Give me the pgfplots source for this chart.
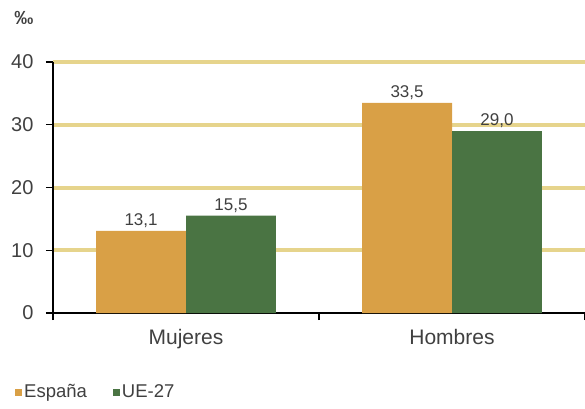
\documentclass[border=0pt]{standalone}
\usepackage{pgfplots}
\pgfplotsset{compat=1.18}
\usepackage{fontspec}
\setmainfont{Liberation Sans}
\definecolor{orangebar}{RGB}{217,160,70}
\definecolor{greenbar}{RGB}{74,116,67}
\definecolor{gridc}{RGB}{230,212,140}
\definecolor{txt}{RGB}{64,64,64}
\pgfplotsset{/pgf/number format/assume math mode=true}
\begin{document}
\begin{tikzpicture}
\useasboundingbox (-53pt,-95pt) rectangle (532pt,313pt);
\begin{axis}[
  at={(0pt,0pt)}, anchor=south west, scale only axis,
  width=532pt, height=251pt,
  xmin=-0.5, xmax=1.5, ymin=0, ymax=40,
  axis x line=bottom, axis y line=left,
  axis line style={-, black, line width=1.1pt},
  ybar, bar width=0.338,
  xtick={0,1}, xticklabels={Mujeres,Hombres},
  minor xtick={-0.5,0.5,1.5},
  ytick={10,20,30,40},
  extra y ticks={0}, extra y tick style={grid=none},
  ymajorgrids, major grid style={gridc, line width=4pt},
  tick align=outside,
  major tick length=7pt, minor tick length=7pt,
  every major x tick/.append style={draw=none},
  every minor x tick/.append style={black, line width=1.1pt},
  every major y tick/.append style={black, line width=1.1pt},
  yticklabel style={font=\fontsize{20}{24}\selectfont, text=txt, xshift=-9pt},
  xticklabel style={font=\fontsize{21}{25}\selectfont, text=txt, yshift=-6pt},
  nodes near coords={\pgfmathprintnumber[use comma,fixed,fixed zerofill,precision=1]{\pgfplotspointmeta}},
  every node near coord/.append style={font=\fontsize{17}{20}\selectfont, text=txt},
  legend image code/.code={\fill[#1] (0pt,-3.5pt) rectangle (7pt,3.5pt);},
  legend style={draw=none, fill=none, legend columns=2,
    at={(axis description cs:-0.0714,-0.315)}, anchor=west,
    font=\fontsize{18.5}{21}\selectfont, text=txt, inner sep=0pt,
    /tikz/every even column/.append style={column sep=24pt}},
  legend cell align=left,
]
\addplot[fill=orangebar, draw=none, bar shift=-0.169] coordinates {(0,13.1) (1,33.5)};
\addplot[fill=greenbar, draw=none, bar shift=0.169] coordinates {(0,15.5) (1,29.0)};
\legend{España, UE-27}
\end{axis}
\node[text=txt, font=\bfseries\fontsize{19}{22}\selectfont] at (-29pt,295pt) {‰};
\end{tikzpicture}
\end{document}
